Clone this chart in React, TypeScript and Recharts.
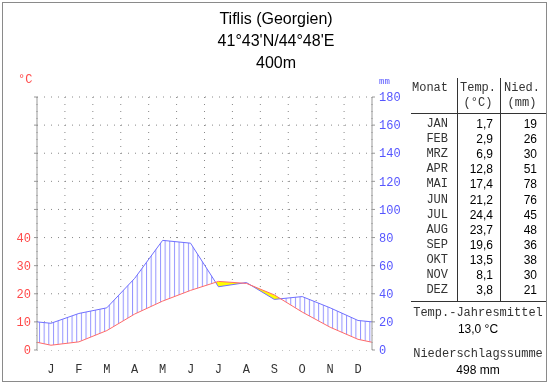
import React from 'react';
import { ComposedChart, Area, Line, XAxis, YAxis, CartesianGrid } from 'recharts';

// ---- data ----
const monthLetters = ['J', 'F', 'M', 'A', 'M', 'J', 'J', 'A', 'S', 'O', 'N', 'D'];
const monthAbbr = ['JAN', 'FEB', 'MRZ', 'APR', 'MAI', 'JUN', 'JUL', 'AUG', 'SEP', 'OKT', 'NOV', 'DEZ'];
const temps = [1.7, 2.9, 6.9, 12.8, 17.4, 21.2, 24.4, 23.7, 19.6, 13.5, 8.1, 3.8];
const precip = [19, 26, 30, 51, 78, 76, 45, 48, 36, 38, 30, 21];
const tempText = ['1,7', '2,9', '6,9', '12,8', '17,4', '21,2', '24,4', '23,7', '19,6', '13,5', '8,1', '3,8'];
const precipText = ['19', '26', '30', '51', '78', '76', '45', '48', '36', '38', '30', '21'];
// values where the curves meet the left / right frame of the plot
const edgeTemp = 2.75;
const edgePrecip = 20;
const monthPos = [0.5, 1.5, 2.5, 3.5, 4.5, 5.5, 6.5, 7.5, 8.5, 9.5, 10.5, 11.5];
const monthBounds = [0, 1, 2, 3, 4, 5, 6, 7, 8, 9, 10, 11, 12];
const tempTicks = [0, 10, 20, 30, 40, 50, 60, 70, 80, 90];
const precipTicks = [0, 20, 40, 60, 80, 100, 120, 140, 160, 180];
const title = ['Tiflis (Georgien)', "41°43'N/44°48'E", '400m'];
const meanTemp = '13,0 °C';
const sumPrecip = '498 mm';

const data = [
  { x: 0, t: edgeTemp, p: edgePrecip },
  ...monthPos.map((x, i) => ({ x, t: temps[i], p: precip[i] })),
  { x: 12, t: edgeTemp, p: edgePrecip },
];

const MONO = "'Liberation Mono', 'Courier New', monospace";
const SANS = "'Liberation Sans', Arial, sans-serif";

type TxtProps = {
  x: number;
  y: number;
  align?: 'left' | 'center' | 'right';
  size?: number;
  color?: string;
  font?: string;
  children: React.ReactNode;
};

const Txt = ({ x, y, align = 'left', size = 12, color = '#000', font = SANS, children }: TxtProps) => {
  const style: React.CSSProperties = {
    position: 'absolute',
    top: y,
    fontSize: size,
    fontFamily: font,
    color,
    lineHeight: 1,
    whiteSpace: 'nowrap',
  };
  if (align === 'left') {
    style.left = x;
    style.transform = 'translateY(-50%)';
  } else if (align === 'right') {
    style.right = 550 - x;
    style.transform = 'translateY(-50%)';
  } else {
    style.left = x;
    style.transform = 'translate(-50%, -50%)';
  }
  return <div style={style}>{children}</div>;
};

const HLine = ({ x1, x2, y }: { x1: number; x2: number; y: number }) => (
  <div style={{ position: 'absolute', left: x1, top: y, width: x2 - x1, height: 1, background: '#333' }} />
);
const VLine = ({ x, y1, y2 }: { x: number; y1: number; y2: number }) => (
  <div style={{ position: 'absolute', left: x, top: y1, width: 1, height: y2 - y1, background: '#333' }} />
);

export default function App() {
  return (
    <div style={{ position: 'absolute', left: 0, top: 0, width: 550, height: 384, background: '#fff', overflow: 'hidden' }}>
      <style>{'.screen-area { mix-blend-mode: screen; }'}</style>
      <div style={{ position: 'absolute', left: 2, top: 2, width: 545, height: 380, border: '1px solid #8a8a8a', boxSizing: 'border-box' }} />
      <div style={{ position: 'absolute', left: 0, top: 0 }}>
        <ComposedChart width={550} height={384} data={data} margin={{ top: 97, right: 138, bottom: 4, left: 0 }}>
          <defs>
            <pattern id="hatch" patternUnits="userSpaceOnUse" x={39} y={0} width={335 / 72} height={8}>
              <rect x={0} y={0} width={1} height={8} fill="#9494ff" />
            </pattern>
          </defs>
          <XAxis
            xAxisId="b"
            type="number"
            dataKey="x"
            domain={[0, 12]}
            ticks={monthBounds}
            interval={0}
            height={0}
            tickSize={4}
            tickFormatter={() => ''}
            stroke="#999"
          />
          <XAxis
            xAxisId="lab"
            type="number"
            dataKey="x"
            domain={[0, 12]}
            ticks={monthPos}
            interval={0}
            height={30}
            axisLine={false}
            tickLine={false}
            tickMargin={8}
            tickFormatter={(v: number) => monthLetters[Math.floor(v)]}
            tick={{ fill: '#333', fontSize: 12, fontFamily: MONO }}
          />
          <YAxis
            yAxisId="t"
            domain={[0, 90]}
            ticks={tempTicks}
            interval={0}
            width={37}
            tickSize={3}
            tickMargin={3}
            stroke="#999"
            tickFormatter={(v: number) => (v <= 40 ? String(v) : '')}
            tick={{ fill: '#ff4a4a', fontSize: 12, fontFamily: MONO }}
          />
          <YAxis
            yAxisId="p"
            orientation="right"
            domain={[0, 180]}
            ticks={precipTicks}
            interval={0}
            width={40}
            tickSize={3}
            tickMargin={4}
            stroke="#999"
            tick={{ fill: '#5555ff', fontSize: 12, fontFamily: MONO, textAnchor: 'start' }}
          />
          <Area xAxisId="b" yAxisId="p" type="linear" dataKey="p" fill="#ffffff" fillOpacity={1} stroke="none" isAnimationActive={false} />
          <Area xAxisId="b" yAxisId="p" type="linear" dataKey="p" fill="url(#hatch)" fillOpacity={1} stroke="none" isAnimationActive={false} />
          <Area xAxisId="b" yAxisId="t" type="linear" dataKey="t" fill="#ffff00" fillOpacity={1} stroke="none" isAnimationActive={false} />
          <Area xAxisId="b" yAxisId="p" type="linear" dataKey="p" fill="#0000ff" fillOpacity={1} stroke="none" className="screen-area" isAnimationActive={false} />
          <CartesianGrid xAxisId="b" yAxisId="t" stroke="#888" strokeDasharray="1 6" />
          <Line xAxisId="b" yAxisId="p" type="linear" dataKey="p" stroke="#7070ff" strokeWidth={1} dot={false} isAnimationActive={false} />
          <Line xAxisId="b" yAxisId="t" type="linear" dataKey="t" stroke="#ff6a6a" strokeWidth={1} dot={false} isAnimationActive={false} />
        </ComposedChart>
      </div>

      {/* title */}
      <Txt x={276} y={19} align="center" size={16}>{title[0]}</Txt>
      <Txt x={276} y={41} align="center" size={16}>{title[1]}</Txt>
      <Txt x={276} y={63} align="center" size={16}>{title[2]}</Txt>

      {/* axis units */}
      <Txt x={18} y={80} size={12} color="#ff4a4a" font={MONO}>°C</Txt>
      <Txt x={379} y={82} size={9} color="#5555ff" font={MONO}>mm</Txt>

      {/* table */}
      <VLine x={457} y1={78} y2={301} />
      <VLine x={500} y1={78} y2={301} />
      <HLine x1={411} x2={546} y={113} />
      <HLine x1={411} x2={546} y={301} />
      <Txt x={430} y={88} align="center" font={MONO} color="#333">Monat</Txt>
      <Txt x={478} y={88} align="center" font={MONO} color="#333">Temp.</Txt>
      <Txt x={478} y={103} align="center" font={MONO} color="#333">(°C)</Txt>
      <Txt x={522} y={88} align="center" font={MONO} color="#333">Nied.</Txt>
      <Txt x={522} y={103} align="center" font={MONO} color="#333">(mm)</Txt>
      {monthAbbr.map((m, i) => (
        <React.Fragment key={m}>
          <Txt x={448} y={124 + i * 15.1} align="right" font={MONO} color="#333">{m}</Txt>
          <Txt x={493} y={124 + i * 15.1} align="right">{tempText[i]}</Txt>
          <Txt x={537} y={124 + i * 15.1} align="right">{precipText[i]}</Txt>
        </React.Fragment>
      ))}
      <Txt x={478} y={313} align="center" font={MONO} color="#333">Temp.-Jahresmittel</Txt>
      <Txt x={478} y={329} align="center">{meanTemp}</Txt>
      <Txt x={478} y={354} align="center" font={MONO} color="#333">Niederschlagssumme</Txt>
      <Txt x={478} y={370} align="center">{sumPrecip}</Txt>
    </div>
  );
}
